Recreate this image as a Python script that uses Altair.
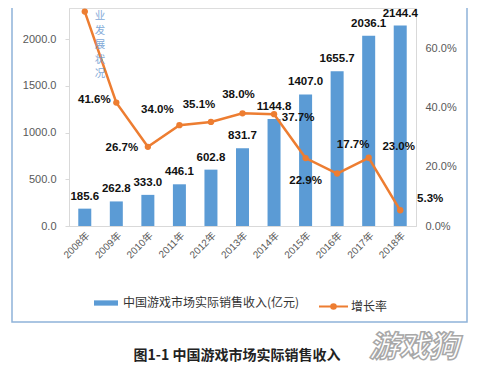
import altair as alt
import pandas as pd

years = ["2008年", "2009年", "2010年", "2011年", "2012年", "2013年",
         "2014年", "2015年", "2016年", "2017年", "2018年"]
revenue = [185.6, 262.8, 333.0, 446.1, 602.8, 831.7, 1144.8, 1407.0, 1655.7, 2036.1, 2144.4]
growth = [72.3, 41.6, 26.7, 34.0, 35.1, 38.0, 37.7, 22.9, 17.7, 23.0, 5.3]
growth_text = ["", "41.6%", "26.7%", "34.0%", "35.1%", "38.0%", "37.7%",
               "22.9%", "17.7%", "23.0%", "5.3%"]
# label placement offsets (pixels) for the growth-rate labels
label_dx = [0, -22, -26, -22, -12, -4, 24, 0, 16, 30, 30]
label_dy = [0, -3, 1, -15, -17, -18, 4, 23, -29, -11, -11]

bar_name = "中国游戏市场实际销售收入(亿元)"
line_name = "增长率"
caption = "图1-1  中国游戏市场实际销售收入"
watermark = "游戏狗"
top_text = ["业", "发", "展", "状", "况"]

df = pd.DataFrame({"year": years, "revenue": revenue, "growth": growth,
                   "gtext": growth_text})

NUM_FONT = "Liberation Sans, Noto Sans CJK SC"
CJK_FONT = "Noto Sans CJK SC"
BLUE = "#5B9BD5"
ORANGE = "#ED7D31"

x_enc = alt.X("year:N", sort=years,
              scale=alt.Scale(paddingInner=0.59, paddingOuter=0.295),
              axis=alt.Axis(title=None, labelAngle=-45, labelFontSize=10,
                            labelColor="#595959", labelFont=NUM_FONT,
                            ticks=False, labelPadding=4,
                            domainColor="#d9d9d9"))

y_left = alt.Y("revenue:Q",
               scale=alt.Scale(domain=[0, 2332], nice=False, zero=True),
               axis=alt.Axis(title=None, values=[0, 500, 1000, 1500, 2000],
                             format=".1f", orient="left", grid=False,
                             labelFontSize=11, labelColor="#595959",
                             labelFont=NUM_FONT, tickSize=4,
                             labelPadding=9, domainColor="#d9d9d9",
                             tickColor="#d9d9d9"))

base = alt.Chart(df)

bars = base.transform_calculate(series=f"'{bar_name}'").mark_bar(size=13).encode(
    x=x_enc, y=y_left,
    color=alt.Color("series:N", scale=alt.Scale(range=[BLUE]),
                    legend=alt.Legend(orient="none", legendX=25, legendY=283,
                                      title=None,
                                      symbolType="M-1,-0.22H1V0.22H-1Z",
                                      symbolSize=576, symbolStrokeWidth=0,
                                      labelFontSize=12, labelFont=CJK_FONT,
                                      labelColor="#333333", labelLimit=300,
                                      labelOffset=5)))

bar_text = base.mark_text(fontSize=11.5, fontWeight="bold", font=NUM_FONT,
                          color="#111111", baseline="middle", dy=-12).encode(
    x=alt.X("year:N", sort=years), y=alt.Y("revenue:Q"),
    text=alt.Text("revenue:Q", format=".1f"))

left_group = alt.layer(bars, bar_text)

y_right = alt.Y("growth:Q",
                scale=alt.Scale(domain=[0, 73.5], nice=False, zero=True),
                axis=alt.Axis(title=None, values=[0, 20, 40, 60], orient="right",
                              labelExpr="format(datum.value, '.1f') + '%'",
                              grid=False, labelFontSize=11, labelColor="#595959",
                              labelFont=NUM_FONT, tickSize=0, labelPadding=9,
                              domainColor="#d9d9d9"))

line = base.transform_calculate(series2=f"'{line_name}'").mark_line(
    strokeWidth=2.5).encode(
    x=alt.X("year:N", sort=years), y=y_right,
    stroke=alt.Stroke("series2:N", scale=alt.Scale(range=[ORANGE]),
                      legend=alt.Legend(orient="none", legendX=249, legendY=283,
                                        title=None,
                                        symbolType="M-1,0H1M-0.16,0A0.16,0.16,0,1,1,0.16,0A0.16,0.16,0,1,1,-0.16,0Z",
                                        symbolSize=841, symbolStrokeWidth=2,
                                        symbolFillColor=ORANGE,
                                        labelFontSize=12, labelFont=CJK_FONT,
                                        labelColor="#333333", labelOffset=2)))

points = base.mark_circle(size=40, color=ORANGE, opacity=1).encode(
    x=alt.X("year:N", sort=years), y=alt.Y("growth:Q"))

label_layers = []
for yr, t, dx, dy in zip(years, growth_text, label_dx, label_dy):
    if not t:
        continue
    label_layers.append(
        base.transform_filter(alt.datum.year == yr).mark_text(
            fontSize=11.5, fontWeight="bold", font=NUM_FONT, color="#111111",
            dx=dx, dy=dy, baseline="middle").encode(
            x=alt.X("year:N", sort=years), y=alt.Y("growth:Q"),
            text="gtext:N"))

right_group = alt.layer(line, points, *label_layers)

deco_df = pd.DataFrame({"k": [0]})
deco = alt.Chart(deco_df)

frame = deco.mark_rect(fillOpacity=0, stroke="#8fb3d9", strokeWidth=1.5).encode(
    x=alt.value(-57), x2=alt.value(398), y=alt.value(-20), y2=alt.value(314))

vert = deco.mark_text(text=top_text, fontSize=10.5, lineHeight=14.5,
                      baseline="top", align="center", color="#6b9bd2",
                      font=CJK_FONT, opacity=0.85).encode(
    x=alt.value(31), y=alt.value(3))

cap = deco.mark_text(text=caption, fontSize=14, fontWeight="bold",
                     font=CJK_FONT, color="#222222", align="center",
                     baseline="middle").encode(x=alt.value(168), y=alt.value(348))

wm = deco.mark_text(text=watermark, fontSize=30, fontWeight="bold",
                    fontStyle="italic", font=CJK_FONT, fill="#ffffff",
                    stroke="#a8a8a8", strokeWidth=1.5, align="center",
                    baseline="middle").encode(x=alt.value(345), y=alt.value(340))

chart = alt.layer(frame, left_group, right_group, vert, cap, wm).resolve_scale(
    y="independent", color="independent"
).properties(
    width=347, height=218,
    autosize=alt.AutoSizeParams(type="none"),
    padding={"left": 61, "top": 0, "right": 56, "bottom": 144},
).configure_view(stroke=None).configure(background="white")

chart.save("out.html", embed_options={"renderer": "svg", "actions": False})
